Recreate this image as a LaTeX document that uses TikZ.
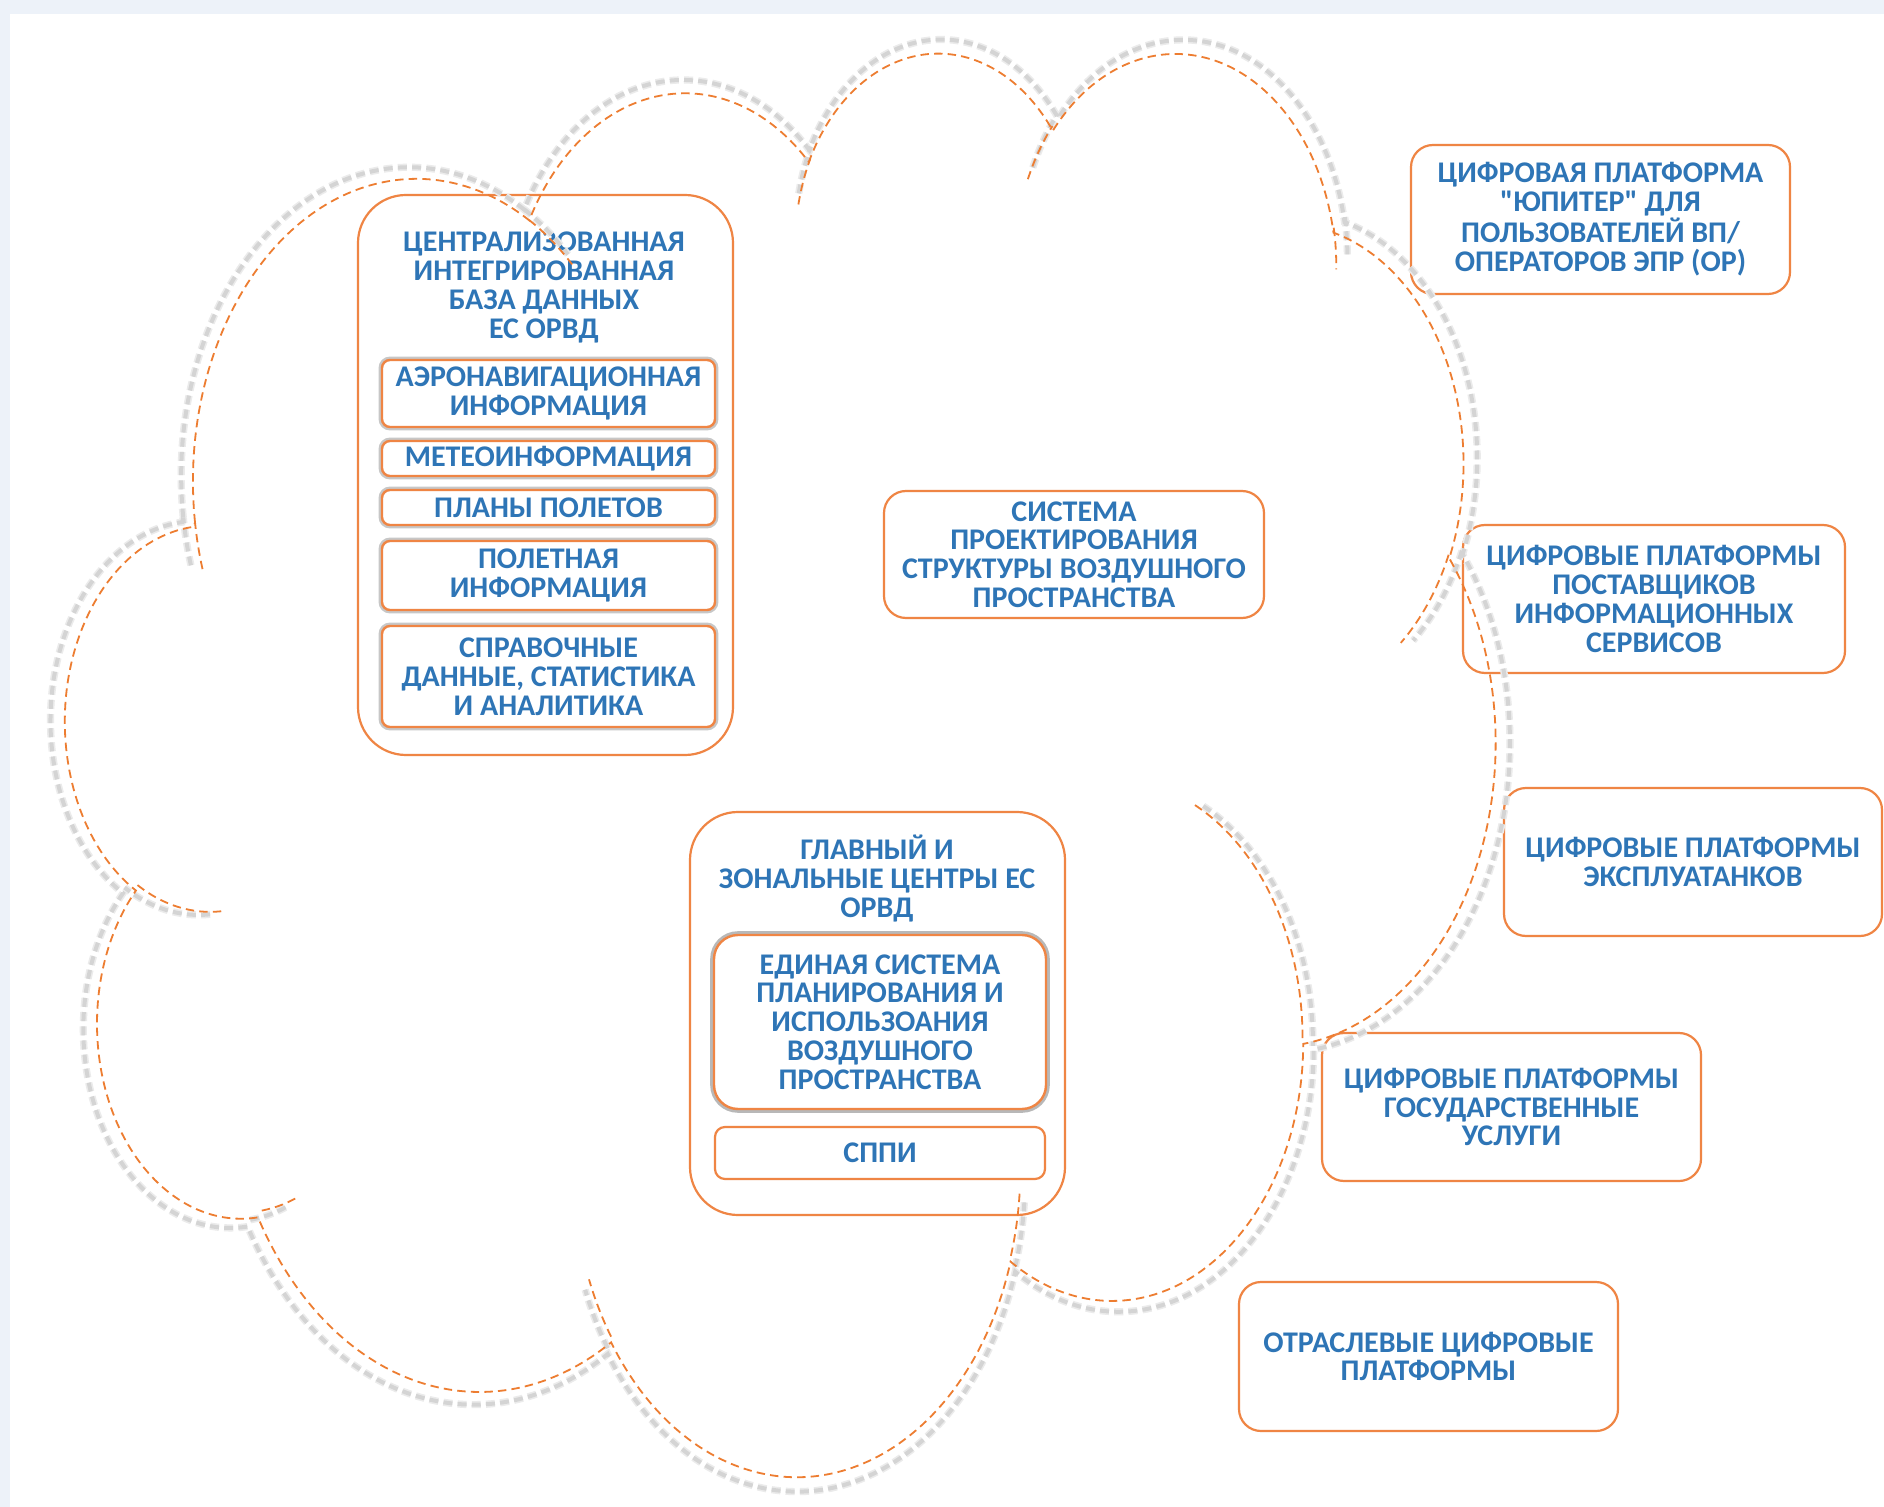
\documentclass[tikz,border=0pt]{standalone}
\usepackage{fontspec}
\setmainfont{Carlito}[Ligatures=TeXOff]
\definecolor{cloudor}{HTML}{ED7D31}
\definecolor{boxor}{HTML}{EF8544}
\definecolor{txtblue}{HTML}{2E75B6}
\definecolor{bgc}{HTML}{EDF2F9}
\newcommand\cloudshape[1]{%
\draw[#1] (3.900,14.370)
 arc[start angle={ct(-190.48748,6.753,9.190)}, end angle={ct(-66.70695,6.753,9.190)}, x radius=6.753, y radius=9.190]
 arc[start angle={ct(-144.10238,5.333,7.267)}, end angle={ct(-54.15715,5.333,7.267)}, x radius=5.333, y radius=7.267]
 arc[start angle={ct(-145.80792,4.365,5.945)}, end angle={ct(-46.08490,4.365,5.945)}, x radius=4.365, y radius=5.945]
 arc[start angle={ct(-130.98607,4.857,6.595)}, end angle={ct(-13.74434,4.857,6.595)}, x radius=4.857, y radius=6.595]
 arc[start angle={ct(-78.70888,5.333,7.273)}, end angle={ct(30.31804,5.333,7.273)}, x radius=5.333, y radius=7.273]
 arc[start angle={ct(-46.26725,6.775,9.220)}, end angle={ct(84.00175,6.775,9.220)}, x radius=6.775, y radius=9.220]
 arc[start angle={ct(0.62502,5.785,7.867)}, end angle={ct(114.65835,5.785,7.867)}, x radius=5.785, y radius=7.867]
 arc[start angle={ct(22.4516,6.752,9.215)}, end angle={ct(137.62415,6.752,9.215)}, x radius=6.752, y radius=9.215]
 arc[start angle={ct(66.24263,7.720,10.543)}, end angle={ct(141.95365,7.720,10.543)}, x radius=7.720, y radius=10.543]
 arc[start angle={ct(-274.94208,4.360,5.918)}, end angle={ct(-128.20651,4.360,5.918)}, x radius=4.360, y radius=5.918]
 arc[start angle={ct(-246.8285,4.345,5.945)}, end angle={ct(-94.30965,4.345,5.945)}, x radius=4.345, y radius=5.945]
 -- cycle;
\draw[#1]
 (4.693,26.177) arc[start angle={ct(86.742,4.345,5.945)}, end angle={ct(113.1715,4.345,5.945)}, x radius=4.345, y radius=5.945]
 (6.928,34.899) arc[start angle={ct(73.61047,4.360,5.918)}, end angle={ct(85.05794,4.360,5.918)}, x radius=4.360, y radius=5.918]
 (16.478,39.090) arc[start angle={ct(137.62415,6.752,9.215)}, end angle={ct(151.70525,6.752,9.215)}, x radius=6.752, y radius=9.215]
 (28.827,34.751) arc[start angle={ct(6.45327,6.752,9.215)}, end angle={ct(22.45162,6.752,9.215)}, x radius=6.752, y radius=9.215]
 (34.129,22.954) arc[start angle={ct(-70.29235,5.785,7.867)}, end angle={ct(0.62502,5.785,7.867)}, x radius=5.785, y radius=7.867]
 (41.798,15.354) arc[start angle={ct(30.31803,5.333,7.273)}, end angle={ct(58.06953,5.333,7.273)}, x radius=5.333, y radius=7.273]
 (38.324,5.426) arc[start angle={ct(-13.74433,4.857,6.595)}, end angle={ct(1.11457,4.857,6.595)}, x radius=4.857, y radius=6.595]
 (29.078,3.952) arc[start angle={ct(-149.18145,4.857,6.595)}, end angle={ct(-130.98608,4.857,6.595)}, x radius=4.857, y radius=6.595]
 (22.141,4.720) arc[start angle={ct(-163.49427,4.365,5.945)}, end angle={ct(-145.80792,4.365,5.945)}, x radius=4.365, y radius=5.945]
 (14.000,5.192) arc[start angle={ct(-66.70695,6.753,9.190)}, end angle={ct(-54.3876,6.753,9.190)}, x radius=6.753, y radius=9.190]
 (4.127,15.789) arc[start angle={ct(157.65435,6.753,9.190)}, end angle={ct(169.51252,6.753,9.190)}, x radius=6.753, y radius=9.190];
}
\begin{document}
\begin{tikzpicture}[x=0.5pt,y=-0.5pt,
  declare function={ct(\x,\y,\z)=\x+atan((\y/\z-1)*sin(\x)*cos(\x)/(cos(\x)*cos(\x)+(\y/\z)*sin(\x)*sin(\x)));},
  boxtext/.style={font=\fontsize{15pt}{14.4pt}\selectfont\bfseries, text=txtblue, align=center},
  bigbox/.style={draw=boxor, line width=1.1pt, rounded corners=24pt, fill=white, inner sep=0pt},
  sidebox/.style={boxtext, draw=boxor, line width=1.1pt, rounded corners=11pt, fill=white, inner sep=0pt},
  smallbox/.style={boxtext, draw=boxor, line width=1.2pt, rounded corners=4pt, fill=white, inner sep=0pt,
    preaction={draw=black!22, line width=3.4pt}},
  plainsmall/.style={boxtext, draw=boxor, line width=1.1pt, rounded corners=5pt, fill=white, inner sep=0pt},
  midbox/.style={boxtext, draw=boxor, line width=1.2pt, rounded corners=12pt, fill=white, inner sep=0pt,
    preaction={draw=black!28, line width=3.8pt}},
  cloudshadowsoft/.style={draw=black!8, line width=3.6pt, dash pattern=on 4.5pt off 2.6pt},
  cloudshadow/.style={draw=black!17, line width=2pt, dash pattern=on 4.5pt off 2.6pt},
  cloudline/.style={draw=cloudor, line width=0.9pt, dash pattern=on 4.2pt off 2.6pt}
]
\useasboundingbox (0,0) rectangle (1884,1507);
\fill[bgc] (0,0) rectangle (1884,1507);
\fill[white] (10,14) rectangle (1884,1507);

% left database block
\node[bigbox, minimum width=187.5pt, minimum height=280pt] (cib) at (545.5,475) {};
\node[boxtext] (cibt) at (544,287.5) {ЦЕНТРАЛИЗОВАННАЯ\\ИНТЕГРИРОВАННАЯ\\БАЗА ДАННЫХ\\ЕС ОРВД};
\node[smallbox, minimum width=166.5pt, minimum height=33.5pt] (aero) at (548.5,393.5) {АЭРОНАВИГАЦИОННАЯ\\ИНФОРМАЦИЯ};
\node[smallbox, minimum width=166.5pt, minimum height=17.5pt] (meteo) at (548.5,458.5) {МЕТЕОИНФОРМАЦИЯ};
\node[smallbox, minimum width=166.5pt, minimum height=17.5pt] (plany) at (548.5,507.5) {ПЛАНЫ ПОЛЕТОВ};
\node[smallbox, minimum width=166.5pt, minimum height=34.5pt] (polet) at (548.5,575.5) {ПОЛЕТНАЯ\\ИНФОРМАЦИЯ};
\node[smallbox, minimum width=166.5pt, minimum height=50.5pt] (sprav) at (548.5,676.5) {СПРАВОЧНЫЕ\\ДАННЫЕ, СТАТИСТИКА\\И АНАЛИТИКА};

% airspace design
\node[sidebox, minimum width=190pt, minimum height=63.5pt] (proekt) at (1074,554.5) {СИСТЕМА\\ПРОЕКТИРОВАНИЯ\\СТРУКТУРЫ ВОЗДУШНОГО\\ПРОСТРАНСТВА};

% main centres
\node[bigbox, minimum width=187.5pt, minimum height=201.5pt] (glav) at (877.5,1013.5) {};
\node[boxtext] (glavt) at (877,878.5) {ГЛАВНЫЙ И\\ЗОНАЛЬНЫЕ ЦЕНТРЫ ЕС\\ОРВД};
\node[midbox, minimum width=166pt, minimum height=87pt] (esp) at (880,1022) {ЕДИНАЯ СИСТЕМА\\ПЛАНИРОВАНИЯ И\\ИСПОЛЬЗОАНИЯ\\ВОЗДУШНОГО\\ПРОСТРАНСТВА};
\node[plainsmall, minimum width=165pt, minimum height=26pt] (sppi) at (880,1153) {СППИ};

% right side platforms
\node[sidebox, minimum width=189.5pt, minimum height=74.5pt] (jup) at (1600.5,219.5) {ЦИФРОВАЯ ПЛАТФОРМА\\"ЮПИТЕР" ДЛЯ\\ПОЛЬЗОВАТЕЛЕЙ ВП/\\ОПЕРАТОРОВ ЭПР (ОР)};
\node[sidebox, minimum width=191pt, minimum height=74pt] (post) at (1654,599) {ЦИФРОВЫЕ ПЛАТФОРМЫ\\ПОСТАВЩИКОВ\\ИНФОРМАЦИОННЫХ\\СЕРВИСОВ};
\node[sidebox, minimum width=189pt, minimum height=74pt] (expl) at (1693,862) {ЦИФРОВЫЕ ПЛАТФОРМЫ\\ЭКСПЛУАТАНКОВ};
\node[sidebox, minimum width=189.5pt, minimum height=74pt] (gos) at (1511.5,1107) {ЦИФРОВЫЕ ПЛАТФОРМЫ\\ГОСУДАРСТВЕННЫЕ\\УСЛУГИ};
\node[sidebox, minimum width=189.5pt, minimum height=74.5pt] (otr) at (1428.5,1356.5) {ОТРАСЛЕВЫЕ ЦИФРОВЫЕ\\ПЛАТФОРМЫ};

% cloud: shadow then outline
\begin{scope}[shift={(51.7,34.8)}, x=1cm, y=1cm, xscale=0.592926, yscale=-0.590444]
  \cloudshape{cloudshadowsoft}
  \cloudshape{cloudshadow}
\end{scope}
\begin{scope}[shift={(66,49)}, x=1cm, y=1cm, xscale=0.581292, yscale=-0.578852]
  \cloudshape{cloudline}
\end{scope}
\end{tikzpicture}
\end{document}
